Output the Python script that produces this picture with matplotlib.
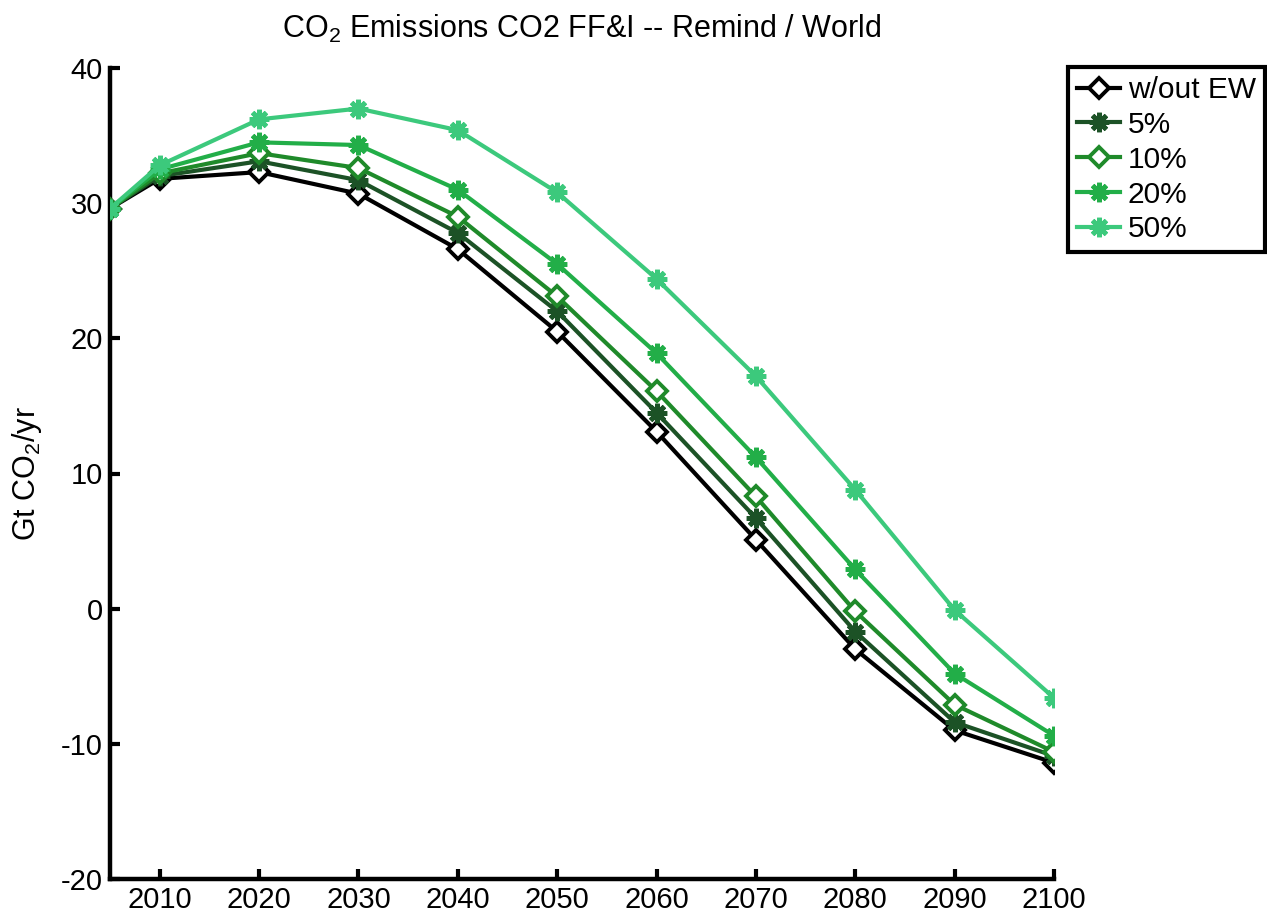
import matplotlib
matplotlib.use("Agg")
import matplotlib.pyplot as plt

plt.rcParams['font.family'] = ['Liberation Sans', 'DejaVu Sans']
plt.rcParams['mathtext.fontset'] = 'custom'
plt.rcParams['mathtext.rm'] = 'Liberation Sans'
plt.rcParams['mathtext.it'] = 'Liberation Sans:italic'
plt.rcParams['mathtext.default'] = 'regular'
plt.rcParams['axes.unicode_minus'] = False

years = [2005, 2010, 2020, 2030, 2040, 2050, 2060, 2070, 2080, 2090, 2100]
series_names = ["w/out EW", "5%", "10%", "20%", "50%"]
wout_ew = [29.6, 31.8, 32.3, 30.7, 26.6, 20.5, 13.1, 5.1, -3.0, -9.0, -11.4]
ew_5 = [29.6, 32.0, 33.1, 31.7, 27.8, 22.0, 14.5, 6.7, -1.7, -8.4, -10.9]
ew_10 = [29.6, 32.2, 33.7, 32.6, 29.0, 23.1, 16.1, 8.3, -0.2, -7.1, -10.6]
ew_20 = [29.6, 32.5, 34.5, 34.3, 31.0, 25.5, 18.9, 11.2, 2.9, -4.8, -9.4]
ew_50 = [29.6, 32.8, 36.2, 37.0, 35.4, 30.8, 24.4, 17.2, 8.8, -0.1, -6.6]
xtick_vals = [2010, 2020, 2030, 2040, 2050, 2060, 2070, 2080, 2090, 2100]
ytick_vals = [-20, -10, 0, 10, 20, 30, 40]

series = [wout_ew, ew_5, ew_10, ew_20, ew_50]
colors = ["#000000", "#1c5226", "#1f8a2a", "#22ae48", "#3cc97c"]
markers = ["D", (8, 2, 0), "D", (8, 2, 0), (8, 2, 0)]

fig = plt.figure(figsize=(12.67, 9.18), dpi=100)
ax = fig.add_axes([110/1267, 39/918, (1054-110)/1267, (879-68)/918])

for name, vals, c, m in zip(series_names, series, colors, markers):
    if m == "D":
        ax.plot(years, vals, color=c, lw=3, marker=m, ms=10.5, mfc='white',
                mec=c, mew=2.8, label=name, zorder=3)
    else:
        ax.plot(years, vals, color=c, lw=3, marker=m, ms=14, mfc=c,
                mec=c, mew=3.5, label=name, zorder=3)

ax.set_xlim(2005, 2100)
ax.set_ylim(-20, 40)
ax.set_xticks(xtick_vals)
ax.set_yticks(ytick_vals)
ax.spines['top'].set_visible(False)
ax.spines['right'].set_visible(False)
for s in ['left', 'bottom']:
    ax.spines[s].set_linewidth(3.2)
ax.tick_params(direction='in', length=7, width=3, labelsize=21, pad=5)

ax.set_title("CO$_2$ Emissions CO2 FF&I -- Remind / World", fontsize=22, pad=22)
ax.set_ylabel("Gt CO$_2$/yr", fontsize=22)
ax.yaxis.set_label_coords((44-110)/944, 0.5)

leg = fig.legend(loc='upper left', bbox_to_anchor=(1068/1267, 1-67/918),
                 fontsize=21.5, frameon=True, fancybox=False, edgecolor='black',
                 framealpha=1, handlelength=1.45, handletextpad=0.25,
                 labelspacing=0.23, borderpad=0.3, borderaxespad=0)
leg.get_frame().set_linewidth(3)

fig.savefig("out.png", dpi=100)
